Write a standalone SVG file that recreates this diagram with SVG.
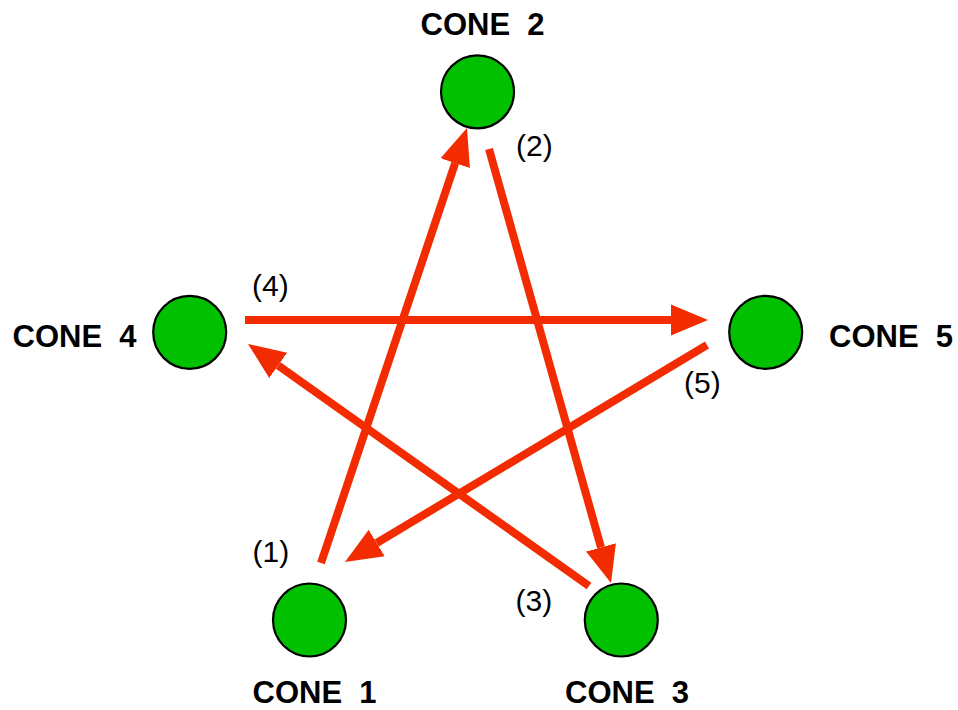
<svg xmlns="http://www.w3.org/2000/svg" width="958" height="710" viewBox="0 0 958 710">
<style>
.cone{fill:#00c000;stroke:#000;stroke-width:2.2}
.name{font-family:"Liberation Sans",Arial,sans-serif;font-weight:bold;font-size:31px;fill:#000;white-space:pre}
.num{font-family:"Liberation Sans",Arial,sans-serif;font-size:30px;fill:#000}
.arr{stroke:#f22b00;stroke-width:8;fill:none;marker-end:url(#head)}
</style>
<defs>
<marker id="head" markerUnits="userSpaceOnUse" viewBox="0 -17 40 34" markerWidth="40" markerHeight="34" refX="0" refY="0" orient="auto">
<path d="M0,-15.5 L37,0 L0,15.5 z" fill="#f22b00"/>
</marker>
</defs>
<rect width="958" height="710" fill="#fff"/>
<g id="cone1">
<circle class="cone" cx="309.5" cy="620" r="36.5"/>
<text class="name" x="252.5" y="703" xml:space="preserve">CONE  1</text>
</g>
<g id="cone2">
<circle class="cone" cx="477.5" cy="91.8" r="36.5"/>
<text class="name" x="420.5" y="34.5" xml:space="preserve">CONE  2</text>
</g>
<g id="cone3">
<circle class="cone" cx="621.3" cy="620" r="36.5"/>
<text class="name" x="565" y="703" xml:space="preserve">CONE  3</text>
</g>
<g id="cone4">
<circle class="cone" cx="189.7" cy="332.3" r="36.5"/>
<text class="name" x="12.5" y="346.5" xml:space="preserve">CONE  4</text>
</g>
<g id="cone5">
<circle class="cone" cx="765.7" cy="332.3" r="36.5"/>
<text class="name" x="829" y="346.5" xml:space="preserve">CONE  5</text>
</g>
<g id="connectors">
<path class="arr" d="M321,563 L455.2,163.1"/>
<path class="arr" d="M489,149 L601,547.4"/>
<path class="arr" d="M589,586 L278.2,365.4"/>
<path class="arr" d="M245,320 L671,320"/>
<path class="arr" d="M707,345 L376.7,543"/>
</g>
<g id="labels">
<text class="num" x="252.5" y="562">(1)</text>
<text class="num" x="516" y="156">(2)</text>
<text class="num" x="515.5" y="611">(3)</text>
<text class="num" x="252" y="296">(4)</text>
<text class="num" x="684" y="393">(5)</text>
</g>
</svg>
